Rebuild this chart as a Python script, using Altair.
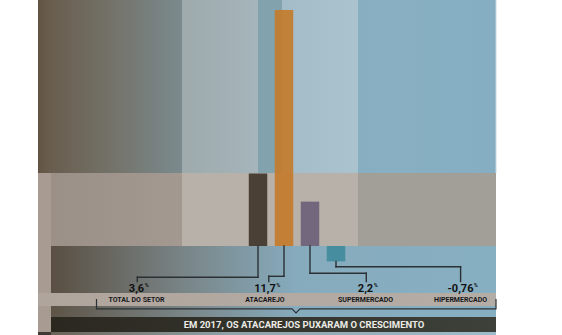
import altair as alt
import pandas as pd

# ---------------- data ----------------
categories = ["TOTAL DO SETOR", "ATACAREJO", "SUPERMERCADO", "HIPERMERCADO"]
values = [3.6, 11.7, 2.2, -0.76]
value_labels = ["3,6", "11,7", "2,2", "-0,76"]
bar_colors = ["#3f3428", "#c47a28", "#6b5f78", "#3f8a9c"]
title_text = "EM 2017, OS ATACAREJOS PUXARAM O CRESCIMENTO"

# ---------------- layout (pixels -> scale units) ----------------
W, H = 562, 335
BASE_PX = 246
PX_PER_UNIT = 236 / 11.7
STEP = 26.0
X0 = 258.0
FONT = "Roboto"
LINE = "#2b3035"


def xu(px):
    return (px - X0) / STEP


def yu(py):
    return (BASE_PX - py) / PX_PER_UNIT


XS = alt.Scale(domain=[xu(0), xu(W)], nice=False, zero=False)
YS = alt.Scale(domain=[yu(H), yu(0)], nice=False, zero=False)


def X(f):
    return alt.X(f, type="quantitative", scale=XS, axis=None)


def Y(f):
    return alt.Y(f, type="quantitative", scale=YS, axis=None)


# ---------------- decorative background ----------------
def grad_rect(px1, px2, py1, py2, stops):
    d = pd.DataFrame({"x": [xu(px1)], "x2": [xu(px2)], "y": [yu(py1)], "y2": [yu(py2)]})
    return alt.Chart(d).mark_rect(
        fill=alt.Gradient(
            gradient="linear",
            stops=[alt.GradientStop(color=c, offset=o) for o, c in stops],
            x1=0, x2=1, y1=0, y2=0,
        ),
        strokeWidth=0,
    ).encode(x=X("x"), x2="x2", y=Y("y"), y2="y2")


def solid_rect(px1, px2, py1, py2, color):
    d = pd.DataFrame({"x": [xu(px1)], "x2": [xu(px2)], "y": [yu(py1)], "y2": [yu(py2)]})
    return alt.Chart(d).mark_rect(fill=color, strokeWidth=0).encode(
        x=X("x"), x2="x2", y=Y("y"), y2="y2"
    )


bg_layers = [
    # top band
    grad_rect(38, 182, 0, 173, [(0, "#625442"), (0.08, "#695d4e"), (0.5, "#737268"), (1, "#7b8a8e")]),
    grad_rect(182, 258, 0, 173, [(0, "#9eaaac"), (1, "#a5b5bb")]),
    solid_rect(258, 282, 0, 173, "#82a3ae"),
    grad_rect(282, 358, 0, 173, [(0, "#a4bcc7"), (1, "#aac3ce")]),
    grad_rect(358, 496, 0, 173, [(0, "#88afc1"), (1, "#86aec2")]),
    # left strip
    solid_rect(38, 51, 173, 332, "#a89b92"),
    solid_rect(38, 51, 332, 335, "#3f3a33"),
    # middle band
    grad_rect(51, 182, 173, 246, [(0, "#9b9087"), (1, "#a39990")]),
    solid_rect(182, 358, 173, 246, "#b8b1aa"),
    solid_rect(358, 496, 173, 246, "#a29f99"),
    # lower band
    grad_rect(51, 496, 246, 293, [(0, "#5a4f42"), (0.3, "#798587"), (0.55, "#86abbd"), (1, "#87afc2")]),
    # label strip
    grad_rect(38, 496, 293, 306, [(0, "#b0a59d"), (1, "#b4ada6")]),
    # band under labels
    grad_rect(51, 496, 306, 317, [(0, "#5e5447"), (0.3, "#798587"), (0.55, "#86abbd"), (1, "#87afc2")]),
    # dark title band
    grad_rect(51, 496, 317, 332, [(0, "#2b2820"), (1, "#3d413a")]),
    # bottom sliver
    grad_rect(51, 496, 332, 335, [(0, "#6b6357"), (0.4, "#8fa3a8"), (1, "#9dbccb")]),
]

edge_df = pd.DataFrame({"x": [xu(496)], "y": [yu(0)], "y2": [yu(173)]})
right_edge = alt.Chart(edge_df).mark_rule(color="#c4d9e2", strokeWidth=1).encode(
    x=X("x"), y=Y("y"), y2="y2"
)

# ---------------- bars ----------------
idx = list(range(len(categories)))
bars_df = pd.DataFrame({
    "cat": categories,
    "value": values,
    "color": bar_colors,
    "x1": [i - 0.355 for i in idx],
    "x2": [i + 0.355 for i in idx],
    "zero": [0.0] * len(idx),
})
bars = alt.Chart(bars_df).mark_rect(opacity=0.9, strokeWidth=0).encode(
    x=X("x1"), x2="x2", y=Y("value"), y2="zero",
    fill=alt.Fill("color:N", scale=None),
)

# ---------------- leader lines ----------------
elbow_px = [277.3, 276.3, 273.3, 266.7]
stem_px = [137.3, 268.8, 366.3, 460.6]
lead_df = pd.DataFrame({
    "cx": idx,
    "start": [min(v, 0.0) for v in values],
    "elbow": [yu(p) for p in elbow_px],
    "sx": [xu(p) for p in stem_px],
    "send": [yu(281.5)] * len(idx),
})
lead_base = alt.Chart(lead_df).mark_rule(color=LINE, strokeWidth=1.4, strokeCap="square")
lead1 = lead_base.encode(x=X("cx"), y=Y("start"), y2="elbow")
lead2 = lead_base.encode(x=X("cx"), x2="sx", y=Y("elbow"))
lead3 = lead_base.encode(x=X("sx"), y=Y("elbow"), y2="send")

# ---------------- labels ----------------
label_px = [136.5, 265.0, 365.5, 460.5]
VSIZE = 11


def half_width(s, size=VSIZE):
    w = 0.0
    for ch in s:
        w += 0.24 if ch == "," else (0.36 if ch == "-" else 0.57)
    return w * size / 2


lab_df = pd.DataFrame({
    "lx": [xu(p) for p in label_px],
    "cat": categories,
    "vlab": value_labels,
    "px": [xu(p + half_width(s) + 0.6) for p, s in zip(label_px, value_labels)],
    "vy": [yu(292.4)] * len(idx),
    "py": [yu(287.0)] * len(idx),
    "cy": [yu(302.4)] * len(idx),
})
val_text = alt.Chart(lab_df).mark_text(
    font=FONT, fontSize=VSIZE, fontWeight="bold", color="#111111", align="center", baseline="alphabetic"
).encode(x=X("lx"), y=Y("vy"), text="vlab:N")
pct_text = alt.Chart(lab_df).mark_text(
    font=FONT, fontSize=5.5, fontWeight="bold", color="#111111", align="left", baseline="alphabetic"
).encode(x=X("px"), y=Y("py"), text=alt.value("%"))
cat_text = alt.Chart(lab_df).mark_text(
    font=FONT, fontSize=7, fontWeight="bold", color="#15171a", align="center", baseline="alphabetic"
).encode(x=X("lx"), y=Y("cy"), text="cat:N")

# ---------------- bracket ----------------
br_df = pd.DataFrame({
    "x": [xu(p) for p in [96.5, 96.5, 292, 296, 300, 496, 496]],
    "y": [yu(p) for p in [299, 308.8, 308.8, 312.8, 308.8, 308.8, 299]],
    "o": list(range(7)),
})
bracket = alt.Chart(br_df).mark_line(color=LINE, strokeWidth=1.2, strokeJoin="miter").encode(
    x=X("x"), y=Y("y"), order="o:Q"
)

title_df = pd.DataFrame({"x": [xu(304)], "y": [yu(328.4)], "t": [title_text]})
title = alt.Chart(title_df).mark_text(
    font=FONT, fontSize=9.5, fontWeight="bold", color="#ecebe5", align="center", baseline="alphabetic"
).encode(x=X("x"), y=Y("y"), text="t:N")

chart = alt.layer(
    *bg_layers, right_edge, bars, lead1, lead2, lead3, val_text, pct_text, cat_text, bracket, title
).properties(
    width=W, height=H, padding=0, autosize=alt.AutoSizeParams(type="none"), background="white"
).configure_view(stroke=None)

chart.save("out.html", embed_options={"renderer": "svg", "actions": False})
